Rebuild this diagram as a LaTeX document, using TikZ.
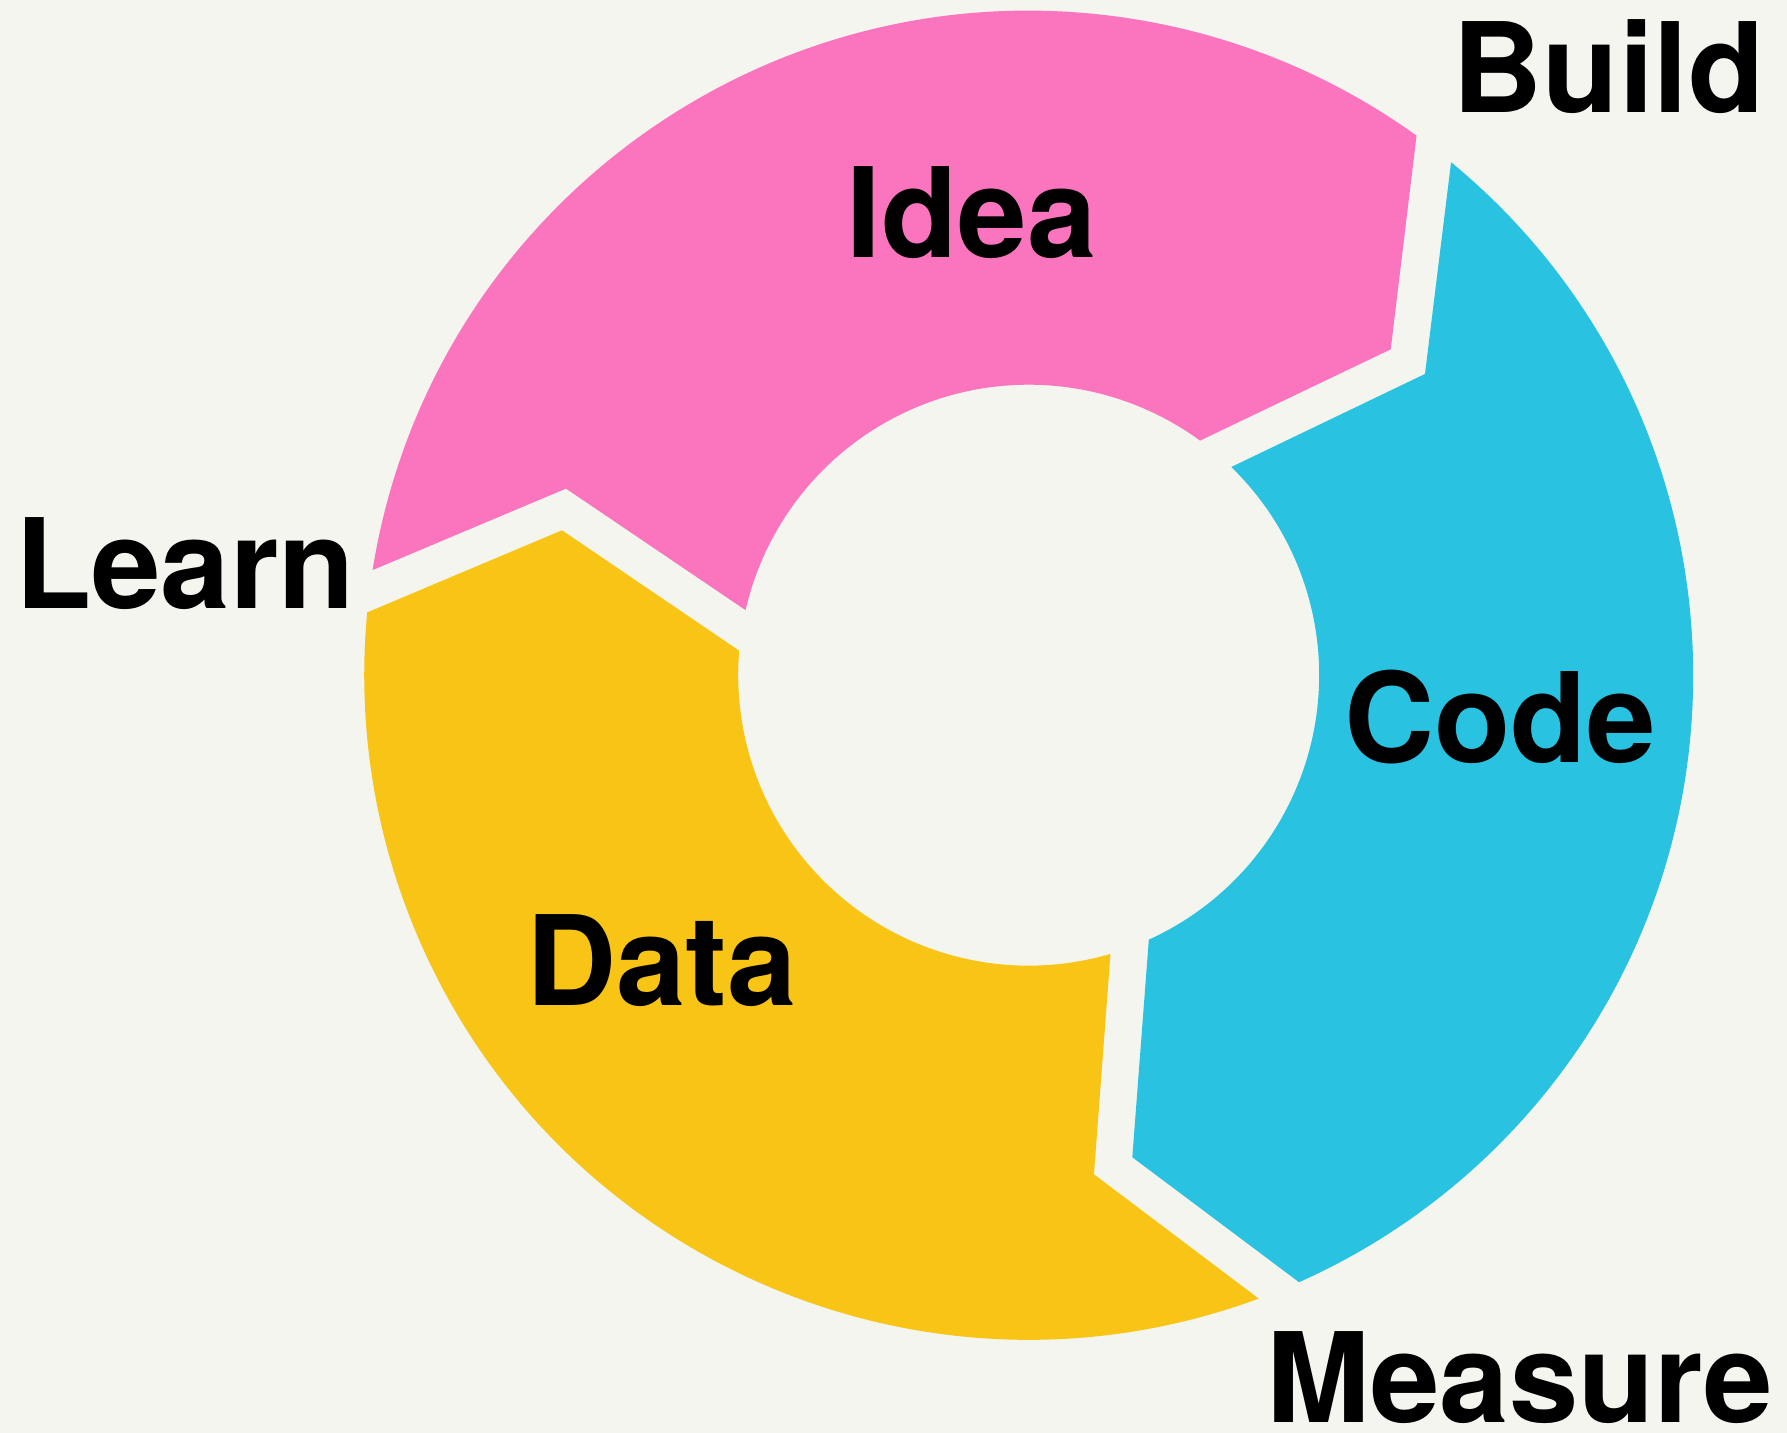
\documentclass[tikz,border=0pt]{standalone}
\usepackage{fontspec}
\setmainfont{TeX Gyre Heros}
\usepackage{xcolor}
\definecolor{ideapink}{HTML}{FA74BE}
\definecolor{codecyan}{HTML}{29C2E0}
\definecolor{datayellow}{HTML}{F8C416}
\definecolor{paper}{HTML}{F4F5EF}

\begin{document}
\begin{tikzpicture}[
    lbl/.style={font=\fontsize{35.5}{40}\selectfont\bfseries, text=black, inner sep=0pt, anchor=base},
    seg/.style={draw=none}
]
    % Background and page size
    \fill[paper] (-10.287,-7.578) rectangle (7.583,6.752);
    \useasboundingbox (-10.287,-7.578) rectangle (7.583,6.752);

    % Idea segment (top)
    \fill[seg, ideapink] (170.9:6.645) arc[start angle=170.9, end angle=54.29, radius=6.645]
        -- (41.99:4.871) -- (53.85:2.905) arc[start angle=53.85, end angle=167.06, radius=2.905]
        -- (158.04:4.989) -- cycle;

    % Code segment (right)
    \fill[seg, codecyan] (50.53:6.645) arc[start angle=50.53, end angle=-65.99, radius=6.645]
        -- (-77.87:4.931) -- (-65.57:2.905) arc[start angle=-65.57, end angle=45.78, radius=2.905]
        -- (37.24:4.978) -- cycle;

    % Data segment (bottom left)
    \fill[seg, datayellow] (-69.75:6.645) arc[start angle=-69.75, end angle=-185.42, radius=6.645]
        -- (162.75:4.887) -- (175.17:2.905) arc[start angle=175.17, end angle=286.35, radius=2.905]
        -- (-82.55:5.034) -- cycle;

    % Labels inside the ring
    \node[lbl] (idea) at (-0.571,4.176) {Idea};
    \node[lbl] (code) at (4.717,-0.873) {Code};
    \node[lbl] (data) at (-3.671,-3.300) {Data};

    % Labels at the gaps
    \node[lbl] (build) at (5.800,5.624) {Build};
    \node[lbl] (learn) at (-8.435,0.666) {Learn};
    \node[lbl] (measure) at (4.911,-7.471) {Measure};
\end{tikzpicture}
\end{document}
